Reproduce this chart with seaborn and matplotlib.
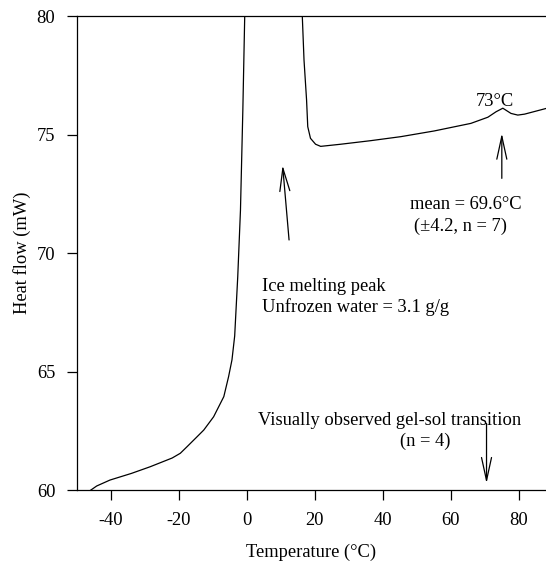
import matplotlib
matplotlib.use("Agg")
import matplotlib.pyplot as plt
import seaborn as sns
import pandas as pd

# DSC trace
temperature = [-46.2, -44.2, -40.3, -34.0, -28.5, -22.0, -19.6, -17.6, -15.0, -12.7,
               -9.8, -6.8, -5.4, -4.4, -3.6, -2.7, -1.9, -1.2, -0.65, 8.0,
               16.3, 16.8, 17.55, 17.9, 18.7, 20.2, 21.7, 27.6, 36.4, 45.3,
               55.1, 65.9, 70.9, 73.3, 75.3, 77.7, 79.7, 81.7, 88.3]
heat_flow = [59.97, 60.17, 60.42, 60.70, 60.98, 61.35, 61.55, 61.83, 62.20, 62.53,
             63.09, 63.94, 64.78, 65.49, 66.50, 69.00, 71.80, 76.03, 79.97, 95.0,
             79.97, 78.14, 76.46, 75.33, 74.84, 74.59, 74.50, 74.59, 74.74, 74.91,
             75.15, 75.47, 75.73, 75.96, 76.11, 75.89, 75.82, 75.86, 76.11]

x_ticks = [-40, -20, 0, 20, 40, 60, 80]
y_ticks = [60, 65, 70, 75, 80]

df = pd.DataFrame({"Temperature": temperature, "Heat flow": heat_flow})

sns.set_style("ticks")
plt.rcParams["font.family"] = ["Liberation Serif", "DejaVu Serif"]
plt.rcParams["text.color"] = "black"
plt.rcParams["axes.labelcolor"] = "black"
plt.rcParams["xtick.color"] = "black"
plt.rcParams["ytick.color"] = "black"

FS = 13.3
fig = plt.figure(figsize=(5.46, 5.68), dpi=100)
ax = fig.add_axes([0.141, 0.1373, 0.859, 0.8345])

sns.lineplot(data=df, x="Temperature", y="Heat flow", sort=False, estimator=None,
             color="black", linewidth=0.9, ax=ax)

ax.set_xlim(-50, 88)
ax.set_ylim(60, 80)
ax.set_xticks(x_ticks)
ax.set_xticklabels([str(v) for v in x_ticks])
ax.set_yticks(y_ticks)
ax.set_yticklabels([str(v) for v in y_ticks])
ax.tick_params(axis="both", direction="out", length=7, width=0.9, pad=8.5,
               labelsize=FS, colors="black")
for s in ["left", "bottom", "top"]:
    ax.spines[s].set_visible(True)
    ax.spines[s].set_linewidth(0.9)
    ax.spines[s].set_color("black")
ax.spines["right"].set_visible(False)

ax.set_xlabel("Temperature (°C)", fontsize=FS, labelpad=11, color="black")
ax.set_ylabel("Heat flow (mW)", fontsize=FS, labelpad=4, color="black")

arrow_kw = dict(arrowstyle="->,head_length=1.65,head_width=0.36", lw=0.9,
                color="black", shrinkA=0, shrinkB=0, mutation_scale=10)

# Ice melting arrow
ax.annotate("", xy=(10.5, 73.7), xytext=(12.4, 70.55), arrowprops=arrow_kw)
ax.text(4.4, 68.58, "Ice melting peak", fontsize=FS, ha="left", va="center")
ax.text(4.4, 67.73, "Unfrozen water = 3.1 g/g", fontsize=FS, ha="left", va="center")

# 73 C transition
ax.text(73.0, 76.4, "73°C", fontsize=FS, ha="center", va="center")
ax.annotate("", xy=(75.0, 75.05), xytext=(75.0, 73.15), arrowprops=arrow_kw)
ax.text(48.0, 72.03, "mean = 69.6°C", fontsize=FS, ha="left", va="center")
ax.text(49.3, 71.14, "(±4.2, n = 7)", fontsize=FS, ha="left", va="center")

# gel-sol transition
ax.text(42.0, 62.92, "Visually observed gel-sol transition", fontsize=FS,
        ha="center", va="center")
ax.text(52.4, 62.04, "(n = 4)", fontsize=FS, ha="center", va="center")
ax.annotate("", xy=(70.5, 60.28), xytext=(70.5, 62.81), arrowprops=arrow_kw)

fig.savefig("out.png", dpi=100)
